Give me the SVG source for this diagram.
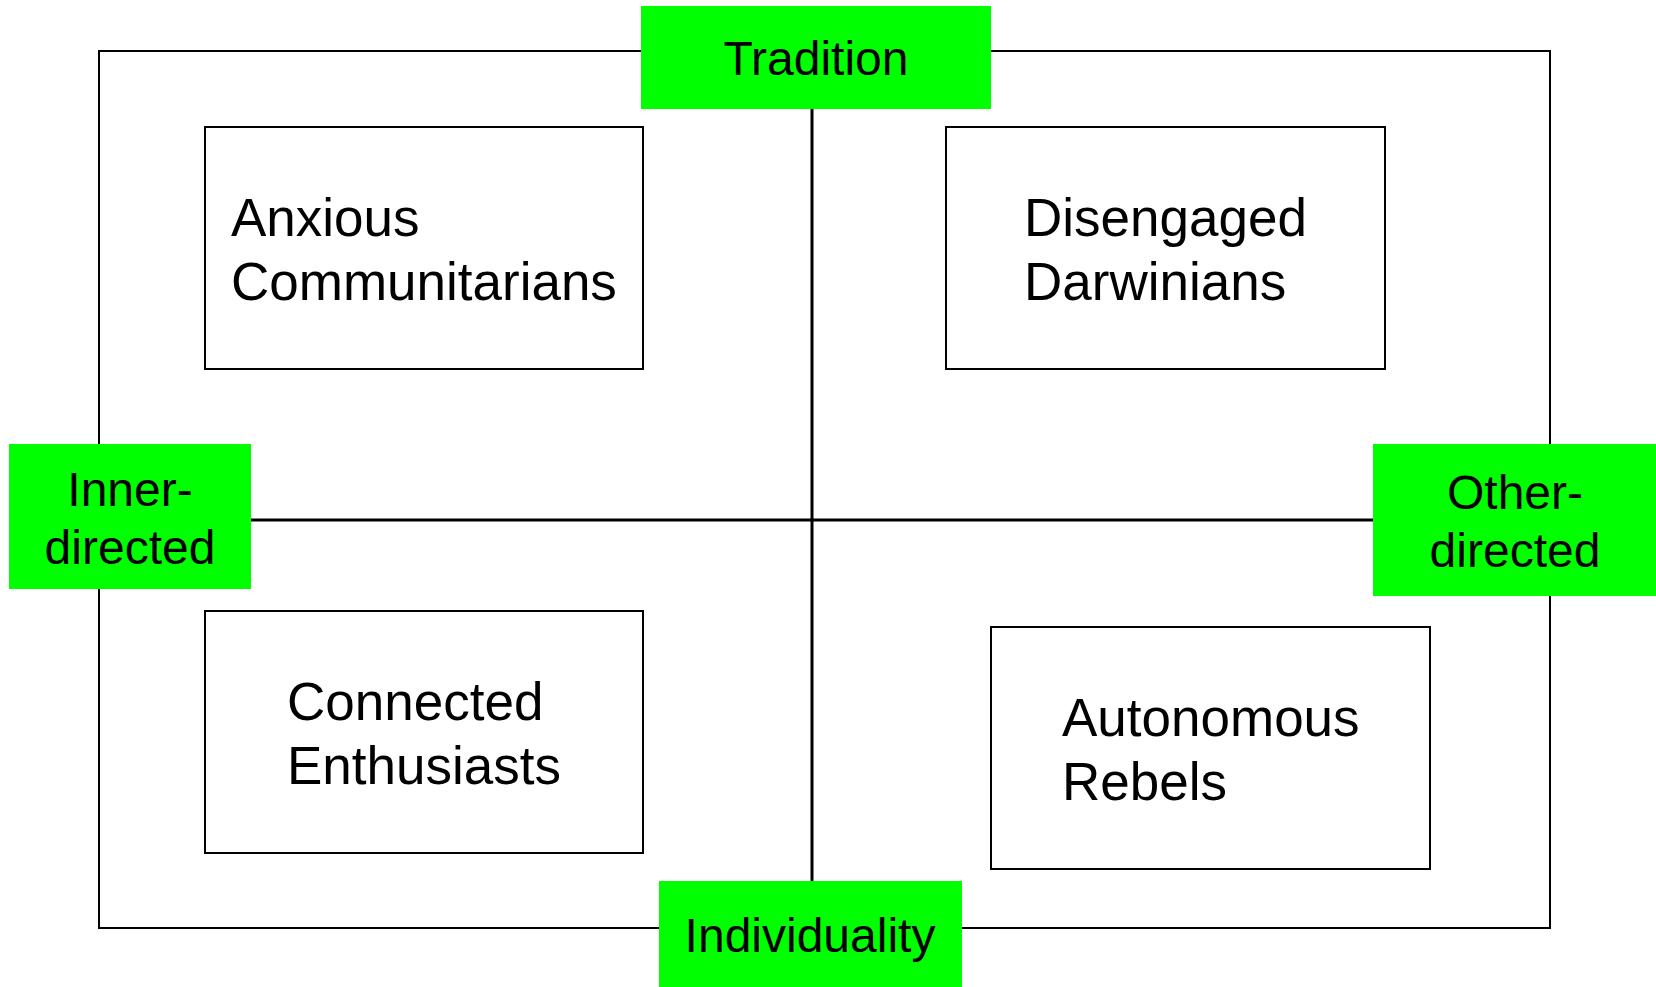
<svg xmlns="http://www.w3.org/2000/svg" width="1656" height="987" viewBox="0 0 1656 987">
<style>
.frame{fill:none;stroke:#000;stroke-width:2}
.axis{fill:none;stroke:#000;stroke-width:3}
.box{fill:#fff;stroke:#000;stroke-width:2}
.pole{fill:#00ff00;stroke:none}
text{font-family:"Liberation Sans",Arial,sans-serif;fill:#000}
.q{font-size:53px}
.p{font-size:48px;text-anchor:middle}
</style>
<rect width="1656" height="987" fill="#fff"/>
<rect id="frame" class="frame" x="99" y="51" width="1451" height="877"/>
<g id="connectors">
<line class="axis" x1="812" y1="100" x2="812" y2="890"/>
<line class="axis" x1="240" y1="520" x2="1380" y2="520"/>
</g>
<g id="anxious"><rect class="box" x="205" y="127" width="438" height="242"/><text class="q" x="231" y="236">Anxious</text><text class="q" x="231" y="300">Communitarians</text></g>
<g id="disengaged"><rect class="box" x="946" y="127" width="439" height="242"/><text class="q" x="1024" y="236">Disengaged</text><text class="q" x="1024" y="300">Darwinians</text></g>
<g id="connected"><rect class="box" x="205" y="611" width="438" height="242"/><text class="q" x="287" y="720">Connected</text><text class="q" x="287" y="784">Enthusiasts</text></g>
<g id="autonomous"><rect class="box" x="991" y="627" width="439" height="242"/><text class="q" x="1062" y="736">Autonomous</text><text class="q" x="1062" y="800">Rebels</text></g>
<g id="tradition"><rect class="pole" x="641" y="6" width="350" height="103"/><text class="p" x="816" y="75">Tradition</text></g>
<g id="inner"><rect class="pole" x="9" y="444" width="242" height="145"/><text class="p" x="130" y="506">Inner-</text><text class="p" x="130" y="564">directed</text></g>
<g id="other"><rect class="pole" x="1373" y="444" width="283" height="152"/><text class="p" x="1515" y="509">Other-</text><text class="p" x="1515" y="567">directed</text></g>
<g id="individuality"><rect class="pole" x="659" y="881" width="303" height="106"/><text class="p" x="810" y="952">Individuality</text></g>
</svg>
